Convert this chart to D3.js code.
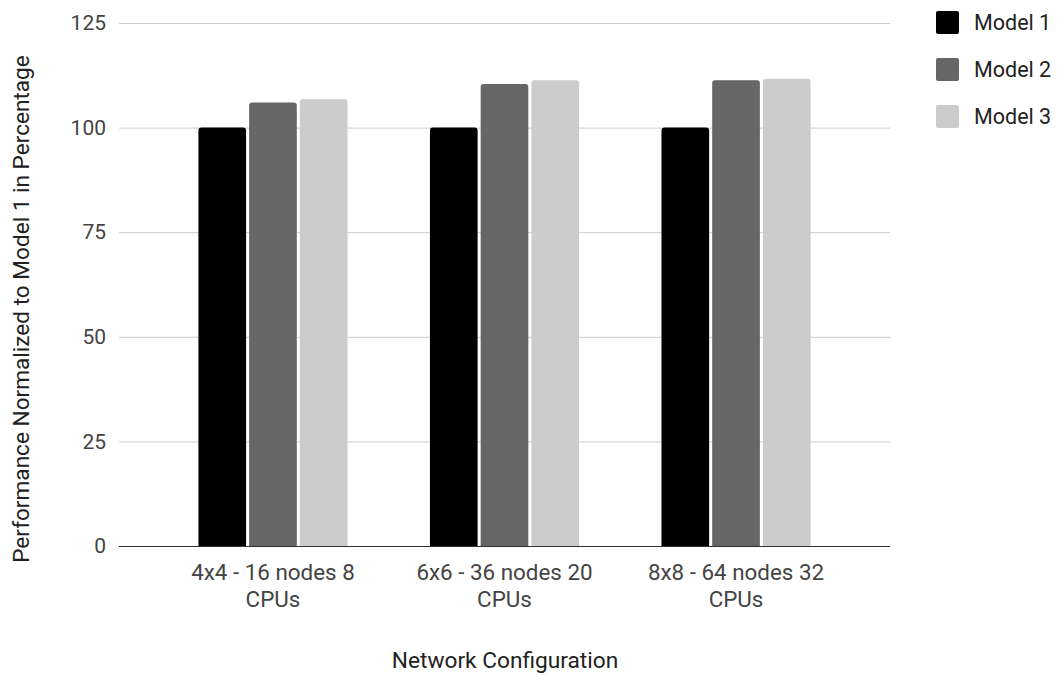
<!DOCTYPE html>
<html><head><meta charset="utf-8">
<script src="https://cdn.jsdelivr.net/npm/d3@7"></script>
<style>body{margin:0;background:#fff}svg{display:block}</style>
</head><body>
<svg id="c" width="1060" height="675"></svg>
<script>
const categories = ["4x4 - 16 nodes 8 CPUs", "6x6 - 36 nodes 20 CPUs", "8x8 - 64 nodes 32 CPUs"];
const categoryLines = [["4x4 - 16 nodes 8", "CPUs"], ["6x6 - 36 nodes 20", "CPUs"], ["8x8 - 64 nodes 32", "CPUs"]];
const seriesNames = ["Model 1", "Model 2", "Model 3"];
const model1 = [100, 100, 100];
const model2 = [106.0, 110.4, 111.3];
const model3 = [106.8, 111.3, 111.7];
const seriesColors = ["#000000", "#666666", "#cccccc"];
const yTicks = [0, 25, 50, 75, 100, 125];

const values = [model1, model2, model3];
const svg = d3.select("#c");
const font = "Roboto, 'Noto Sans', sans-serif";

const x0 = d3.scaleBand().domain(categories).range([119, 890]).paddingInner(0.356).paddingOuter(0.343);
const x1 = d3.scaleBand().domain(seriesNames).range([0, x0.bandwidth()]).paddingInner(0.06);
const y = d3.scaleLinear().domain([0, 125]).range([546, 23]);

// gridlines
const yAxis = d3.axisLeft(y).tickValues(yTicks).tickSize(-(890 - 119)).tickPadding(10);
const gy = svg.append("g").attr("transform", "translate(119,0)").call(yAxis);
gy.select(".domain").remove();
gy.selectAll(".tick line").attr("stroke", "#cccccc").attr("stroke-width", 1);
gy.selectAll(".tick text").attr("font-family", font).attr("font-size", 21).attr("fill", "#444").attr("x", -13);

// bars
const g = svg.append("g");
categories.forEach((c, i) => {
  seriesNames.forEach((s, j) => {
    const v = values[j][i];
    const bx = x0(c) + x1(s), bw = x1.bandwidth();
    const top = y(v), base = y(0), r = 3;
    const path = `M${bx},${base}V${top + r}Q${bx},${top} ${bx + r},${top}H${bx + bw - r}Q${bx + bw},${top} ${bx + bw},${top + r}V${base}Z`;
    g.append("path").attr("d", path).attr("fill", seriesColors[j]);
  });
});

// baseline
svg.append("line").attr("x1", 119).attr("x2", 890).attr("y1", y(0) + 0.5).attr("y2", y(0) + 0.5).attr("stroke", "#333").attr("stroke-width", 1);

// category labels
categories.forEach((c, i) => {
  const t = svg.append("text").attr("text-anchor", "middle").attr("font-family", font).attr("font-size", 22.4).attr("fill", "#444");
  categoryLines[i].forEach((ln, k) => {
    t.append("tspan").attr("x", x0(c) + x0.bandwidth() / 2).attr("y", 580 + k * 27).text(ln);
  });
});

// axis titles
svg.append("text").attr("x", 505).attr("y", 668).attr("text-anchor", "middle").attr("font-family", font).attr("font-size", 22.7).attr("fill", "#222").text("Network Configuration");
svg.append("text").attr("transform", "translate(29,309) rotate(-90)").attr("text-anchor", "middle").attr("font-family", font).attr("font-size", 22.6).attr("fill", "#222").text("Performance Normalized to Model 1 in Percentage");

// legend
const leg = svg.append("g");
seriesNames.forEach((s, j) => {
  const ly = 22 + j * 47;
  leg.append("rect").attr("x", 936).attr("y", ly - 11).attr("width", 23).attr("height", 23).attr("rx", 2).attr("fill", seriesColors[j]);
  leg.append("text").attr("x", 974).attr("y", ly + 8).attr("font-family", font).attr("font-size", 21.5).attr("fill", "#222").text(s);
});
</script>
</body></html>
